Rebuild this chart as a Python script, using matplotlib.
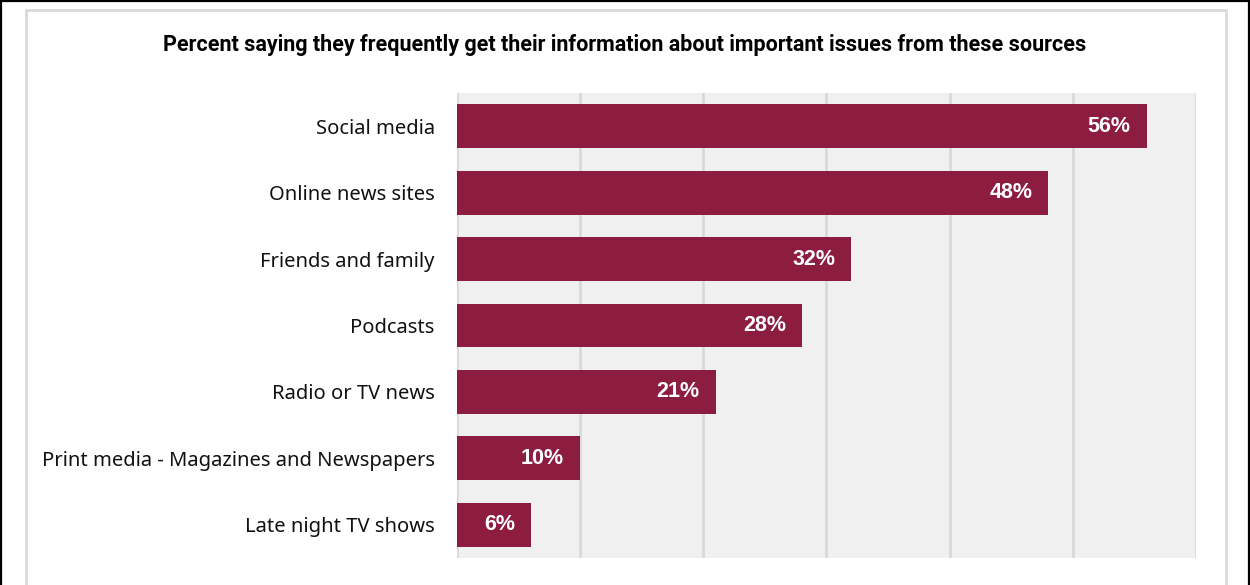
import matplotlib
matplotlib.use("Agg")
import matplotlib.pyplot as plt
from matplotlib.patches import Rectangle
from matplotlib.lines import Line2D

categories = [
    "Social media",
    "Online news sites",
    "Friends and family",
    "Podcasts",
    "Radio or TV news",
    "Print media - Magazines and Newspapers",
    "Late night TV shows",
]
values = [56, 48, 32, 28, 21, 10, 6]
x_ticks = [0, 10, 20, 30, 40, 50, 60]
title = "Percent saying they frequently get their information about important issues from these sources"

W, H = 1250, 585
fig = plt.figure(figsize=(W / 100, H / 100), dpi=100)
fig.patch.set_facecolor("white")

def fx(px):
    return px / W

def fy(py):
    return 1 - py / H

# outer frame (open at the bottom) and inner card border
for xs, ys in [((0.8, 0.8), (0, 585)), ((1248.8, 1248.8), (0, 585)), ((0, 1250), (0.8, 0.8))]:
    fig.add_artist(Line2D([fx(x) for x in xs], [fy(y) for y in ys], transform=fig.transFigure,
                          color="black", linewidth=1.6))
fig.add_artist(Rectangle((fx(26), fy(600)), fx(1200), 590 / H, transform=fig.transFigure,
                         fill=False, edgecolor="#d9d9d9", linewidth=2.0, clip_on=False))

ax = fig.add_axes([fx(457), fy(558), fx(739), 465 / H])
ax.set_facecolor("#f0f0f0")

ypos = list(range(len(categories)))
ax.set_xlim(0, 60)
ax.set_ylim(len(categories) - 0.5, -0.5)
ax.set_xticks(x_ticks)
ax.xaxis.grid(True, color="#d9d9d9", linewidth=2.0)
ax.set_axisbelow(True)
ax.tick_params(axis="x", length=0, labelbottom=False)
ax.tick_params(axis="y", length=0, pad=16)
for s in ax.spines.values():
    s.set_visible(False)

bars = ax.barh(ypos, values, height=0.66, color="#8c1d40", zorder=3)
ax.set_yticks(ypos)
ax.set_yticklabels(categories, fontsize=14.5, family="Noto Sans", color="#111111")

for b, v in zip(bars, values):
    ax.annotate(f"{v}%", xy=(b.get_width(), b.get_y() + b.get_height() / 2),
                xytext=(-16, 0), textcoords="offset pixels",
                ha="right", va="center", color="white", fontsize=15.5,
                fontweight="bold", family="Liberation Sans", zorder=4)

fig.text(fx(625), fy(45), title, ha="center", va="center", fontsize=15.5,
         fontweight="bold", family="Roboto", color="black")

fig.savefig("out.png", dpi=100, facecolor="white")
